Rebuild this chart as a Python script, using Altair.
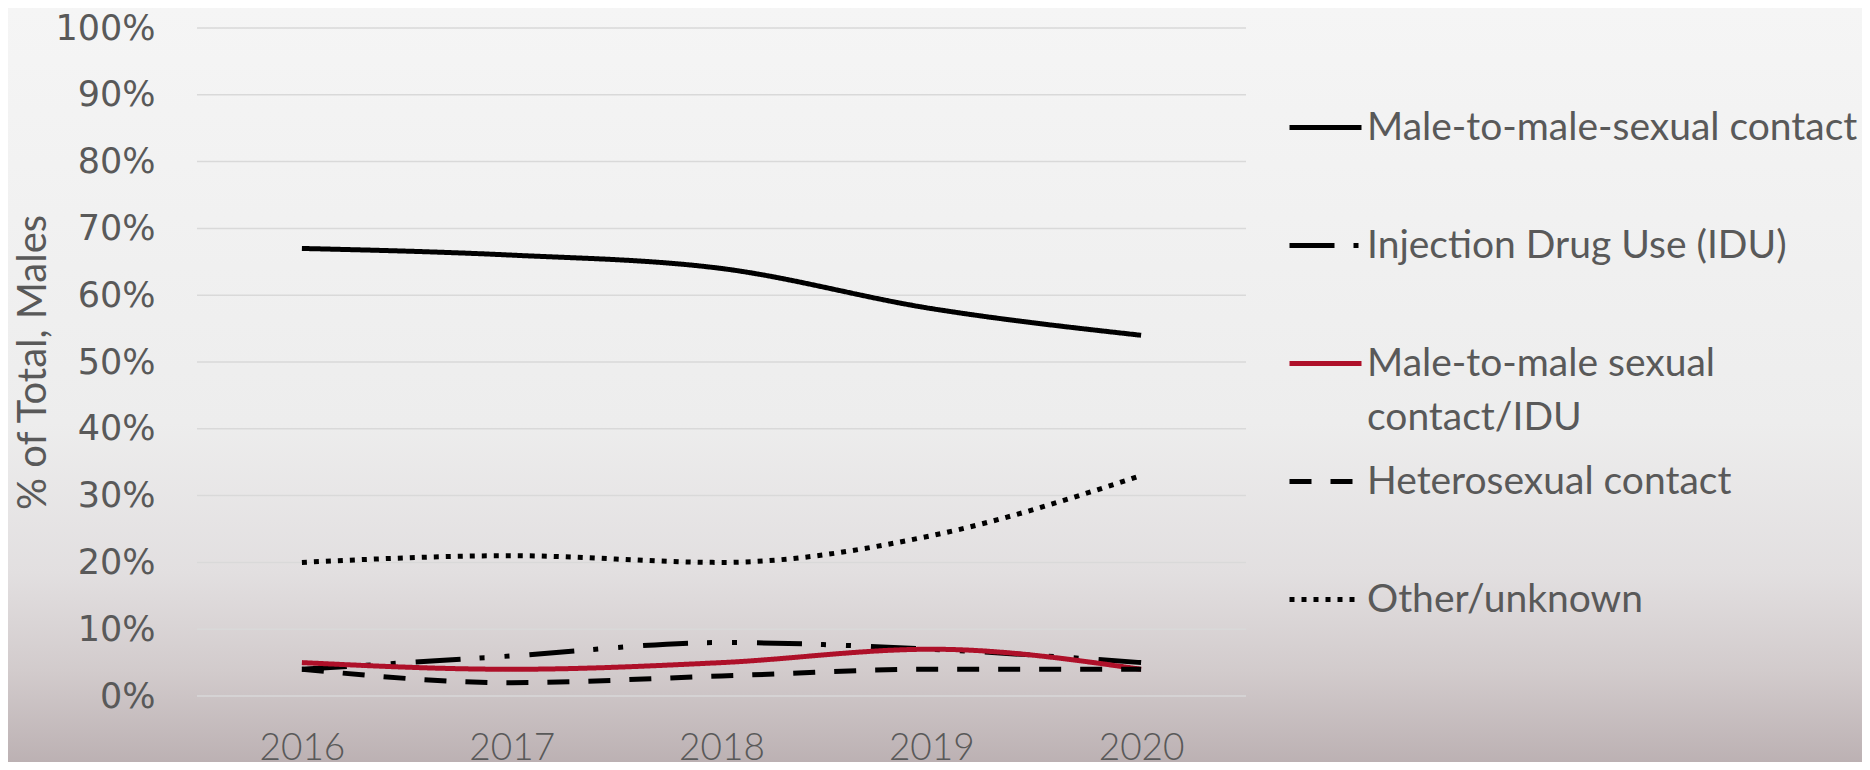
import altair as alt
import pandas as pd

years = ["2016", "2017", "2018", "2019", "2020"]
series = [
    "Male-to-male-sexual contact",
    "Injection Drug Use (IDU)",
    "Male-to-male sexual contact/IDU",
    "Heterosexual contact",
    "Other/unknown",
]
msm = [0.67, 0.66, 0.64, 0.58, 0.54]
idu = [0.04, 0.06, 0.08, 0.07, 0.05]
msm_idu = [0.05, 0.04, 0.05, 0.07, 0.04]
hetero = [0.04, 0.02, 0.03, 0.04, 0.04]
other = [0.20, 0.21, 0.20, 0.24, 0.33]
y_ticks = [0.0, 0.1, 0.2, 0.3, 0.4, 0.5, 0.6, 0.7, 0.8, 0.9, 1.0]

colors = ["#000000", "#000000", "#AE1029", "#000000", "#000000"]
dashes = [[1, 0], [45, 19, 5, 20, 5, 20], [1, 0], [22, 19], [5, 7]]

values = [msm, idu, msm_idu, hetero, other]
rows = []
for name, vals in zip(series, values):
    for yr, v in zip(years, vals):
        rows.append({"year": yr, "series": name, "value": v})
df = pd.DataFrame(rows)

W, H = 1049, 668
PL, PT = 189, 20
PR = 1854 - PL - W
PB = 754 - PT - H

yscale = alt.Scale(domain=[0, 1], nice=False, zero=True)
TITLE = "% of Total, Males"
yaxis = alt.Axis(
    values=y_ticks, format=".0%", labelFont="DejaVu Sans", labelFontSize=35,
    labelColor="#595959", labelPadding=42, ticks=False, domain=False,
    grid=False, zindex=1, titleFont="Lato", titleFontSize=40,
    titleFontWeight="normal", titleColor="#595959", titleX=-164, titleY=H / 2,
    titleAngle=-90, titleAlign="center", titleBaseline="middle",
)

bg = alt.Chart(pd.DataFrame({"k": [0]})).mark_rect(
    fill=alt.LinearGradient(
        gradient="linear",
        stops=[
            alt.GradientStop(offset=0, color="#f5f5f5"),
            alt.GradientStop(offset=0.55, color="#ededed"),
            alt.GradientStop(offset=0.75, color="#e2dfe0"),
            alt.GradientStop(offset=0.88, color="#d2cbcc"),
            alt.GradientStop(offset=1, color="#bcb1b3"),
        ],
        x1=0, x2=0, y1=0, y2=1,
    ),
    stroke=None,
).encode(
    x=alt.value(-PL), x2=alt.value(W + PR), y=alt.value(-PT), y2=alt.value(H + PB)
)

grid = alt.Chart(pd.DataFrame({"value": y_ticks})).mark_rule(
    color="#d9d9d9", strokeWidth=1.5
).encode(y=alt.Y("value:Q", scale=yscale, title=TITLE, axis=yaxis))

label_expr = (
    "datum.label == 'Male-to-male sexual contact/IDU' ? "
    "['Male-to-male sexual', 'contact/IDU'] : [datum.label, '']"
)

legend = alt.Legend(
    title=None, orient="none", legendX=1090, legendY=61, padding=0,
    symbolType="stroke", symbolSize=5184, symbolStrokeWidth=5,
    labelFont="Lato", labelFontSize=39, labelColor="#595959",
    labelOffset=3, labelLimit=800, rowPadding=5, labelExpr=label_expr,
    labelBaseline="middle",
)

lines = alt.Chart(df).mark_line(strokeWidth=5, interpolate="monotone").encode(
    x=alt.X(
        "year:N",
        sort=years,
        title=None,
        axis=alt.Axis(
            labelAngle=0, labelFont="Lato", labelFontSize=37, labelFontWeight=300,
            labelColor="#595959", labelPadding=34, ticks=False, domain=False,
            grid=False, zindex=1, labelBaseline="top",
        ),
    ),
    y=alt.Y("value:Q", scale=yscale, title=TITLE, axis=yaxis),
    color=alt.Color("series:N", scale=alt.Scale(domain=series, range=colors), legend=legend),
    strokeDash=alt.StrokeDash("series:N", scale=alt.Scale(domain=series, range=dashes), legend=legend),
)

chart = alt.layer(bg, grid, lines).properties(
    width=W,
    height=H,
    autosize=alt.AutoSizeParams(type="none"),
    padding={"left": PL, "top": PT, "right": PR, "bottom": PB},
).configure_view(stroke=None).configure(
    style={"guide-label": {"lineHeight": 54}}
)

chart.save("out.html", embed_options={"renderer": "svg", "actions": False})
